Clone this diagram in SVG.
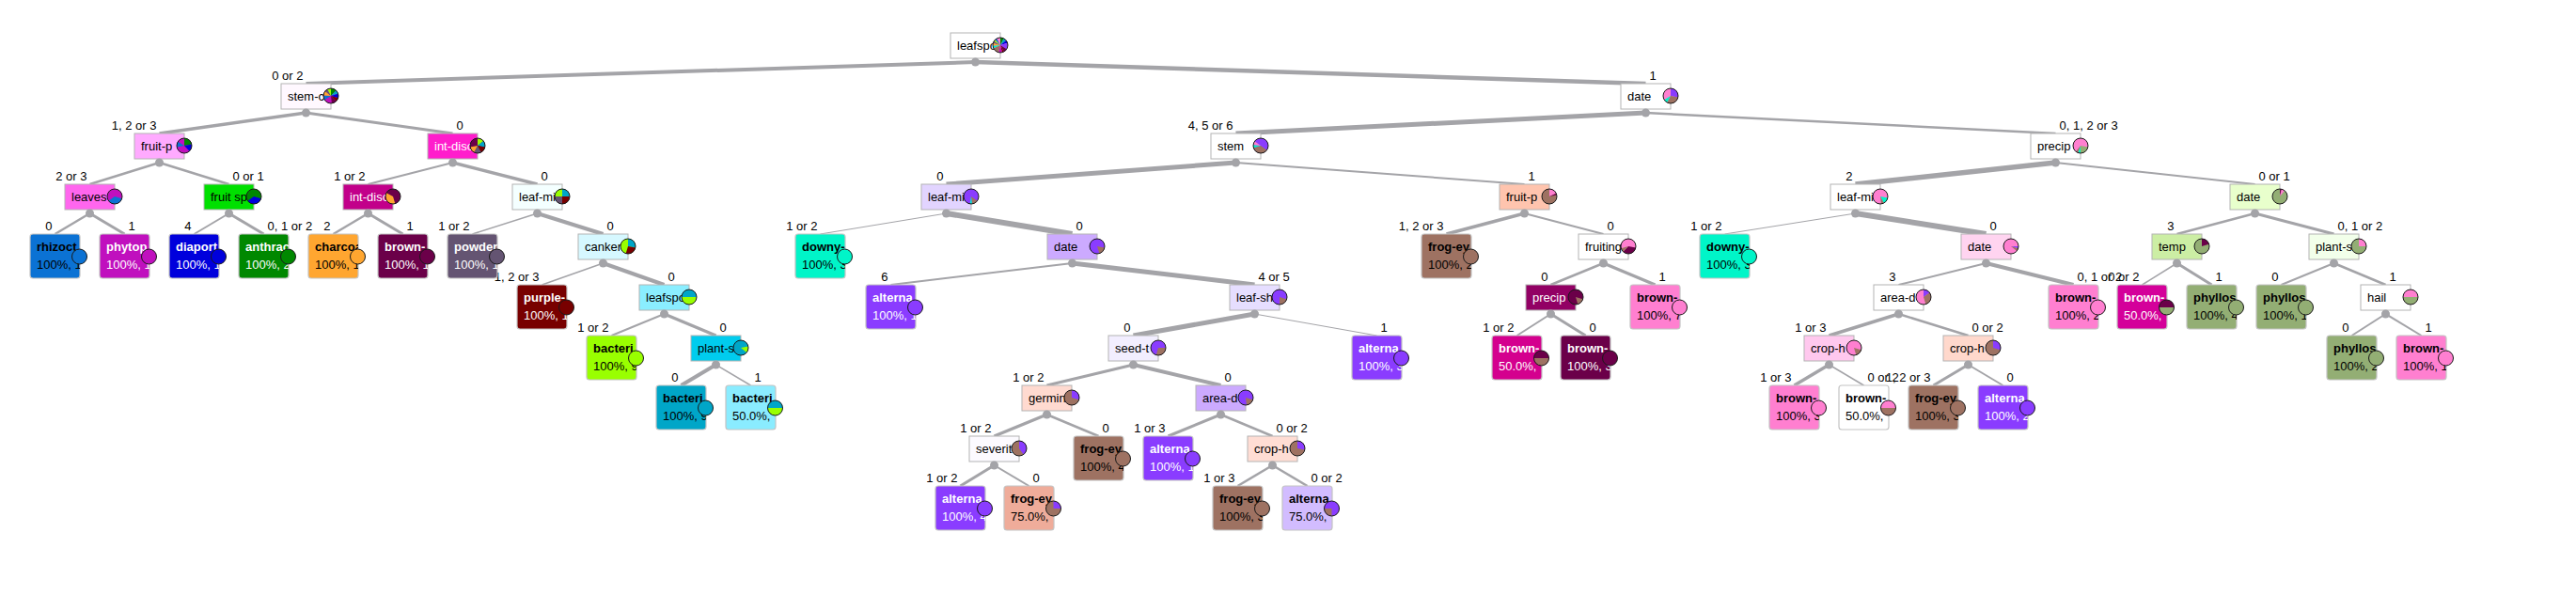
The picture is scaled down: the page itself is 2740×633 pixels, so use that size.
<svg xmlns="http://www.w3.org/2000/svg" width="2740" height="633" viewBox="0 0 2740 633">
<style>
text{font-family:"Liberation Sans",Arial,sans-serif;font-size:13px;fill:#000}
.nm{font-weight:bold}
.w text,text.w{fill:#fff}
.e path{fill:none;stroke:#a4a4a8;stroke-linecap:butt}
.ib{stroke:#b4b4b4;stroke-width:1}
.lf{stroke:#c4c4c4;stroke-width:1.2}
.dt{fill:#a4a4a8}
.s{fill:none;stroke-width:8}
.o{fill:none;stroke:#1a1a1a;stroke-width:1}
.pc{stroke:#1a1a1a;stroke-width:1}
.fP{fill:#ff7fd0}.sP{stroke:#ff7fd0}
.fA{fill:#8a3cff}.sA{stroke:#8a3cff}
.fF{fill:#9e7262}.sF{stroke:#9e7262}
.fD{fill:#00f5c8}.sD{stroke:#00f5c8}
.fO{fill:#93ae74}.sO{stroke:#93ae74}
.fM{fill:#6b0049}.sM{stroke:#6b0049}
.fH{fill:#c010be}.sH{stroke:#c010be}
.fR{fill:#0b72d4}.sR{stroke:#0b72d4}
.fB{fill:#0000dc}.sB{stroke:#0000dc}
.fG{fill:#008800}.sG{stroke:#008800}
.fC{fill:#ffa630}.sC{stroke:#ffa630}
.fW{fill:#645472}.sW{stroke:#645472}
.fS{fill:#780000}.sS{stroke:#780000}
.fL{fill:#99ff00}.sL{stroke:#99ff00}
.fT{fill:#00a6c8}.sT{stroke:#00a6c8}
</style>
<rect width="2740" height="633" fill="#fff"/>
<g id="connectors" class="e">
<path d="M1037.5 66L325.5 89" stroke-width="4"/>
<path d="M1037.5 66L1750.5 89" stroke-width="4.5"/>
<path d="M325.5 120L169.5 142" stroke-width="3.5"/>
<path d="M325.5 120L481.5 142" stroke-width="3"/>
<path d="M169.5 173L95.5 196" stroke-width="2.5"/>
<path d="M169.5 173L243.5 196" stroke-width="2.5"/>
<path d="M95.5 227L58.5 249" stroke-width="2.5"/>
<path d="M95.5 227L132.5 249" stroke-width="3"/>
<path d="M243.5 227L206.5 249" stroke-width="2"/>
<path d="M243.5 227L280.5 249" stroke-width="3"/>
<path d="M481.5 173L391.5 196" stroke-width="2"/>
<path d="M481.5 173L571.5 196" stroke-width="3.5"/>
<path d="M391.5 227L354.5 249" stroke-width="2.5"/>
<path d="M391.5 227L428.5 249" stroke-width="3"/>
<path d="M571.5 227L502.5 249" stroke-width="1.5"/>
<path d="M571.5 227L641.5 249" stroke-width="4"/>
<path d="M641.5 280L576.5 303" stroke-width="1.5"/>
<path d="M641.5 280L706.5 303" stroke-width="4"/>
<path d="M706.5 334L650.5 357" stroke-width="2"/>
<path d="M706.5 334L761.5 357" stroke-width="3.5"/>
<path d="M761.5 388L724.5 410" stroke-width="4"/>
<path d="M761.5 388L798.5 410" stroke-width="1.5"/>
<path d="M1750.5 120L1314.5 142" stroke-width="5"/>
<path d="M1750.5 120L2186.5 142" stroke-width="2.5"/>
<path d="M1314.5 173L1006.5 196" stroke-width="5"/>
<path d="M1314.5 173L1621.5 196" stroke-width="2"/>
<path d="M1006.5 227L872.5 249" stroke-width="1"/>
<path d="M1006.5 227L1140.5 249" stroke-width="6"/>
<path d="M1140.5 280L947.5 303" stroke-width="2"/>
<path d="M1140.5 280L1334.5 303" stroke-width="5"/>
<path d="M1334.5 334L1205.5 357" stroke-width="5"/>
<path d="M1334.5 334L1464.5 357" stroke-width="1"/>
<path d="M1205.5 388L1113.5 410" stroke-width="3"/>
<path d="M1205.5 388L1298.5 410" stroke-width="4"/>
<path d="M1113.5 441L1057.5 464" stroke-width="3.5"/>
<path d="M1113.5 441L1168.5 464" stroke-width="2.5"/>
<path d="M1057.5 495L1021.5 517" stroke-width="3"/>
<path d="M1057.5 495L1094.5 517" stroke-width="2"/>
<path d="M1298.5 441L1242.5 464" stroke-width="3"/>
<path d="M1298.5 441L1353.5 464" stroke-width="2.5"/>
<path d="M1353.5 495L1316.5 517" stroke-width="2.5"/>
<path d="M1353.5 495L1390.5 517" stroke-width="2.5"/>
<path d="M1621.5 227L1538.5 249" stroke-width="3.5"/>
<path d="M1621.5 227L1705.5 249" stroke-width="2"/>
<path d="M1705.5 280L1649.5 303" stroke-width="2.5"/>
<path d="M1705.5 280L1760.5 303" stroke-width="3.5"/>
<path d="M1649.5 334L1613.5 357" stroke-width="2"/>
<path d="M1649.5 334L1686.5 357" stroke-width="3"/>
<path d="M2186.5 173L1973.5 196" stroke-width="5.5"/>
<path d="M2186.5 173L2398.5 196" stroke-width="2"/>
<path d="M1973.5 227L1834.5 249" stroke-width="1"/>
<path d="M1973.5 227L2112.5 249" stroke-width="6"/>
<path d="M2112.5 280L2019.5 303" stroke-width="2"/>
<path d="M2112.5 280L2205.5 303" stroke-width="4"/>
<path d="M2019.5 334L1945.5 357" stroke-width="3.5"/>
<path d="M2019.5 334L2093.5 357" stroke-width="2.5"/>
<path d="M1945.5 388L1908.5 410" stroke-width="3.5"/>
<path d="M1945.5 388L1982.5 410" stroke-width="1.5"/>
<path d="M2093.5 388L2056.5 410" stroke-width="3"/>
<path d="M2093.5 388L2130.5 410" stroke-width="2"/>
<path d="M2398.5 227L2315.5 249" stroke-width="2.5"/>
<path d="M2398.5 227L2482.5 249" stroke-width="3"/>
<path d="M2315.5 280L2278.5 303" stroke-width="1.5"/>
<path d="M2315.5 280L2352.5 303" stroke-width="3"/>
<path d="M2482.5 280L2426.5 303" stroke-width="2"/>
<path d="M2482.5 280L2537.5 303" stroke-width="2.5"/>
<path d="M2537.5 334L2501.5 357" stroke-width="2"/>
<path d="M2537.5 334L2575.5 357" stroke-width="2"/>
<g id="edge-labels">
<text x="322.5" y="85" text-anchor="end">0 or 2</text>
<text x="1754.5" y="85">1</text>
<text x="166.5" y="138" text-anchor="end">1, 2 or 3</text>
<text x="485.5" y="138">0</text>
<text x="92.5" y="192" text-anchor="end">2 or 3</text>
<text x="247.5" y="192">0 or 1</text>
<text x="55.5" y="245" text-anchor="end">0</text>
<text x="136.5" y="245">1</text>
<text x="203.5" y="245" text-anchor="end">4</text>
<text x="284.5" y="245">0, 1 or 2</text>
<text x="388.5" y="192" text-anchor="end">1 or 2</text>
<text x="575.5" y="192">0</text>
<text x="351.5" y="245" text-anchor="end">2</text>
<text x="432.5" y="245">1</text>
<text x="499.5" y="245" text-anchor="end">1 or 2</text>
<text x="645.5" y="245">0</text>
<text x="573.5" y="299" text-anchor="end">1, 2 or 3</text>
<text x="710.5" y="299">0</text>
<text x="647.5" y="353" text-anchor="end">1 or 2</text>
<text x="765.5" y="353">0</text>
<text x="721.5" y="406" text-anchor="end">0</text>
<text x="802.5" y="406">1</text>
<text x="1311.5" y="138" text-anchor="end">4, 5 or 6</text>
<text x="2190.5" y="138">0, 1, 2 or 3</text>
<text x="1003.5" y="192" text-anchor="end">0</text>
<text x="1625.5" y="192">1</text>
<text x="869.5" y="245" text-anchor="end">1 or 2</text>
<text x="1144.5" y="245">0</text>
<text x="944.5" y="299" text-anchor="end">6</text>
<text x="1338.5" y="299">4 or 5</text>
<text x="1202.5" y="353" text-anchor="end">0</text>
<text x="1468.5" y="353">1</text>
<text x="1110.5" y="406" text-anchor="end">1 or 2</text>
<text x="1302.5" y="406">0</text>
<text x="1054.5" y="460" text-anchor="end">1 or 2</text>
<text x="1172.5" y="460">0</text>
<text x="1018.5" y="513" text-anchor="end">1 or 2</text>
<text x="1098.5" y="513">0</text>
<text x="1239.5" y="460" text-anchor="end">1 or 3</text>
<text x="1357.5" y="460">0 or 2</text>
<text x="1313.5" y="513" text-anchor="end">1 or 3</text>
<text x="1394.5" y="513">0 or 2</text>
<text x="1535.5" y="245" text-anchor="end">1, 2 or 3</text>
<text x="1709.5" y="245">0</text>
<text x="1646.5" y="299" text-anchor="end">0</text>
<text x="1764.5" y="299">1</text>
<text x="1610.5" y="353" text-anchor="end">1 or 2</text>
<text x="1690.5" y="353">0</text>
<text x="1970.5" y="192" text-anchor="end">2</text>
<text x="2402.5" y="192">0 or 1</text>
<text x="1831.5" y="245" text-anchor="end">1 or 2</text>
<text x="2116.5" y="245">0</text>
<text x="2016.5" y="299" text-anchor="end">3</text>
<text x="2209.5" y="299">0, 1 or 2</text>
<text x="1942.5" y="353" text-anchor="end">1 or 3</text>
<text x="2097.5" y="353">0 or 2</text>
<text x="1905.5" y="406" text-anchor="end">1 or 3</text>
<text x="1986.5" y="406">0 or 2</text>
<text x="2053.5" y="406" text-anchor="end">1, 2 or 3</text>
<text x="2134.5" y="406">0</text>
<text x="2312.5" y="245" text-anchor="end">3</text>
<text x="2486.5" y="245">0, 1 or 2</text>
<text x="2275.5" y="299" text-anchor="end">0 or 2</text>
<text x="2356.5" y="299">1</text>
<text x="2423.5" y="299" text-anchor="end">0</text>
<text x="2541.5" y="299">1</text>
<text x="2498.5" y="353" text-anchor="end">0</text>
<text x="2579.5" y="353">1</text>
</g>
</g>
<g id="nodes">
<g id="n0"><rect class="ib" x="1011" y="35" width="53" height="27" fill="#fff"/><svg x="1011" y="35" width="53" height="27"><text x="7" y="18">leafspo</text></svg><circle class="dt" cx="1037.5" cy="66" r="4.5"/><g transform="translate(1064,48) rotate(-90)"><circle class="fP" r="8"/><circle class="s sG" r="4" pathLength="100" stroke-dasharray="8 100" stroke-dashoffset="0"/><circle class="s sT" r="4" pathLength="100" stroke-dasharray="6 100" stroke-dashoffset="-8"/><circle class="s sB" r="4" pathLength="100" stroke-dasharray="6 100" stroke-dashoffset="-14"/><circle class="s sA" r="4" pathLength="100" stroke-dasharray="14 100" stroke-dashoffset="-20"/><circle class="s sM" r="4" pathLength="100" stroke-dasharray="8 100" stroke-dashoffset="-34"/><circle class="s sS" r="4" pathLength="100" stroke-dasharray="4 100" stroke-dashoffset="-42"/><circle class="s sH" r="4" pathLength="100" stroke-dasharray="8 100" stroke-dashoffset="-46"/><circle class="s sF" r="4" pathLength="100" stroke-dasharray="14 100" stroke-dashoffset="-54"/><circle class="s sD" r="4" pathLength="100" stroke-dasharray="6 100" stroke-dashoffset="-68"/><circle class="s sC" r="4" pathLength="100" stroke-dasharray="6 100" stroke-dashoffset="-74"/><circle class="s sW" r="4" pathLength="100" stroke-dasharray="4 100" stroke-dashoffset="-80"/><circle class="s sL" r="4" pathLength="100" stroke-dasharray="4 100" stroke-dashoffset="-84"/><circle class="s sR" r="4" pathLength="100" stroke-dasharray="4 100" stroke-dashoffset="-88"/><circle class="o" r="8"/></g></g>
<g id="n1"><rect class="ib" x="299" y="89" width="53" height="27" fill="#fff8ff"/><svg x="299" y="89" width="53" height="27"><text x="7" y="18">stem-c</text></svg><circle class="dt" cx="325.5" cy="120" r="4.5"/><g transform="translate(352,102) rotate(-90)"><circle class="fH" r="8"/><circle class="s sG" r="4" pathLength="100" stroke-dasharray="12 100" stroke-dashoffset="0"/><circle class="s sT" r="4" pathLength="100" stroke-dasharray="8 100" stroke-dashoffset="-12"/><circle class="s sB" r="4" pathLength="100" stroke-dasharray="10 100" stroke-dashoffset="-20"/><circle class="s sS" r="4" pathLength="100" stroke-dasharray="8 100" stroke-dashoffset="-30"/><circle class="s sM" r="4" pathLength="100" stroke-dasharray="10 100" stroke-dashoffset="-38"/><circle class="s sR" r="4" pathLength="100" stroke-dasharray="10 100" stroke-dashoffset="-66"/><circle class="s sC" r="4" pathLength="100" stroke-dasharray="10 100" stroke-dashoffset="-76"/><circle class="s sW" r="4" pathLength="100" stroke-dasharray="6 100" stroke-dashoffset="-86"/><circle class="s sL" r="4" pathLength="100" stroke-dasharray="8 100" stroke-dashoffset="-92"/><circle class="o" r="8"/></g></g>
<g id="n2"><rect class="ib" x="1724" y="89" width="53" height="27" fill="#fff"/><svg x="1724" y="89" width="53" height="27"><text x="7" y="18">date</text></svg><circle class="dt" cx="1750.5" cy="120" r="4.5"/><g transform="translate(1777,102) rotate(-90)"><circle class="fP" r="8"/><circle class="s sA" r="4" pathLength="100" stroke-dasharray="28 100" stroke-dashoffset="0"/><circle class="s sF" r="4" pathLength="100" stroke-dasharray="30 100" stroke-dashoffset="-28"/><circle class="s sD" r="4" pathLength="100" stroke-dasharray="8 100" stroke-dashoffset="-58"/><circle class="o" r="8"/></g></g>
<g id="n3"><rect class="ib" x="143" y="142" width="53" height="27" fill="#ffaaff"/><svg x="143" y="142" width="53" height="27"><text x="7" y="18">fruit-p</text></svg><circle class="dt" cx="169.5" cy="173" r="4.5"/><g transform="translate(196,155) rotate(-90)"><circle class="fH" r="8"/><circle class="s sG" r="4" pathLength="100" stroke-dasharray="22 100" stroke-dashoffset="0"/><circle class="s sB" r="4" pathLength="100" stroke-dasharray="16 100" stroke-dashoffset="-22"/><circle class="s sR" r="4" pathLength="100" stroke-dasharray="12 100" stroke-dashoffset="-72"/><circle class="o" r="8"/></g></g>
<g id="n4" class="w"><rect class="ib" x="455" y="142" width="53" height="27" fill="#ff1dcc"/><svg x="455" y="142" width="53" height="27"><text x="7" y="18">int-disc</text></svg><circle class="dt" cx="481.5" cy="173" r="4.5"/><g transform="translate(508,155) rotate(-90)"><circle class="fM" r="8"/><circle class="s sL" r="4" pathLength="100" stroke-dasharray="14 100" stroke-dashoffset="0"/><circle class="s sT" r="4" pathLength="100" stroke-dasharray="14 100" stroke-dashoffset="-14"/><circle class="s sS" r="4" pathLength="100" stroke-dasharray="14 100" stroke-dashoffset="-28"/><circle class="s sW" r="4" pathLength="100" stroke-dasharray="16 100" stroke-dashoffset="-42"/><circle class="s sC" r="4" pathLength="100" stroke-dasharray="14 100" stroke-dashoffset="-58"/><circle class="o" r="8"/></g></g>
<g id="n5"><rect class="ib" x="69" y="196" width="53" height="27" fill="#ff66ee"/><svg x="69" y="196" width="53" height="27"><text x="7" y="18">leaves</text></svg><circle class="dt" cx="95.5" cy="227" r="4.5"/><g transform="translate(122,209) rotate(-90)"><circle class="fH" r="8"/><circle class="s sR" r="4" pathLength="100" stroke-dasharray="35 100" stroke-dashoffset="-30"/><circle class="o" r="8"/></g></g>
<g id="n6"><rect class="ib" x="217" y="196" width="53" height="27" fill="#00e000"/><svg x="217" y="196" width="53" height="27"><text x="7" y="18">fruit sp</text></svg><circle class="dt" cx="243.5" cy="227" r="4.5"/><g transform="translate(270,209) rotate(-90)"><circle class="fG" r="8"/><circle class="s sB" r="4" pathLength="100" stroke-dasharray="35 100" stroke-dashoffset="-30"/><circle class="o" r="8"/></g></g>
<g id="n7"><rect class="lf" x="32" y="249" width="53" height="47" rx="3" fill="#0b72d4"/><svg x="32" y="249" width="53" height="47"><text class="nm" x="7" y="18">rhizoct</text><text x="7" y="37">100%, 1</text></svg><circle class="fR pc" cx="84.5" cy="273" r="8"/></g>
<g id="n8" class="w"><rect class="lf" x="106" y="249" width="53" height="47" rx="3" fill="#c010be"/><svg x="106" y="249" width="53" height="47"><text class="nm" x="7" y="18">phytop</text><text x="7" y="37">100%, 1</text></svg><circle class="fH pc" cx="158.5" cy="273" r="8"/></g>
<g id="n9" class="w"><rect class="lf" x="180" y="249" width="53" height="47" rx="3" fill="#0000dc"/><svg x="180" y="249" width="53" height="47"><text class="nm" x="7" y="18">diaport</text><text x="7" y="37">100%, 1</text></svg><circle class="fB pc" cx="232.5" cy="273" r="8"/></g>
<g id="n10" class="w"><rect class="lf" x="254" y="249" width="53" height="47" rx="3" fill="#008800"/><svg x="254" y="249" width="53" height="47"><text class="nm" x="7" y="18">anthrac</text><text x="7" y="37">100%, 2</text></svg><circle class="fG pc" cx="306.5" cy="273" r="8"/></g>
<g id="n11" class="w"><rect class="ib" x="365" y="196" width="53" height="27" fill="#c2008a"/><svg x="365" y="196" width="53" height="27"><text x="7" y="18">int-disc</text></svg><circle class="dt" cx="391.5" cy="227" r="4.5"/><g transform="translate(418,209) rotate(-90)"><circle class="fM" r="8"/><circle class="s sC" r="4" pathLength="100" stroke-dasharray="38 100" stroke-dashoffset="-45"/><circle class="o" r="8"/></g></g>
<g id="n12"><rect class="ib" x="545" y="196" width="53" height="27" fill="#f4ffff"/><svg x="545" y="196" width="53" height="27"><text x="7" y="18">leaf-mi</text></svg><circle class="dt" cx="571.5" cy="227" r="4.5"/><g transform="translate(598,209) rotate(-90)"><circle class="fW" r="8"/><circle class="s sT" r="4" pathLength="100" stroke-dasharray="25 100" stroke-dashoffset="0"/><circle class="s sS" r="4" pathLength="100" stroke-dasharray="25 100" stroke-dashoffset="-25"/><circle class="s sL" r="4" pathLength="100" stroke-dasharray="25 100" stroke-dashoffset="-75"/><circle class="o" r="8"/></g></g>
<g id="n13"><rect class="lf" x="328" y="249" width="53" height="47" rx="3" fill="#ffa630"/><svg x="328" y="249" width="53" height="47"><text class="nm" x="7" y="18">charcoa</text><text x="7" y="37">100%, 1</text></svg><circle class="fC pc" cx="380.5" cy="273" r="8"/></g>
<g id="n14" class="w"><rect class="lf" x="402" y="249" width="53" height="47" rx="3" fill="#6b0049"/><svg x="402" y="249" width="53" height="47"><text class="nm" x="7" y="18">brown-</text><text x="7" y="37">100%, 1</text></svg><circle class="fM pc" cx="454.5" cy="273" r="8"/></g>
<g id="n15" class="w"><rect class="lf" x="476" y="249" width="53" height="47" rx="3" fill="#645472"/><svg x="476" y="249" width="53" height="47"><text class="nm" x="7" y="18">powder</text><text x="7" y="37">100%, 1</text></svg><circle class="fW pc" cx="528.5" cy="273" r="8"/></g>
<g id="n16"><rect class="ib" x="615" y="249" width="53" height="27" fill="#d6f8ff"/><svg x="615" y="249" width="53" height="27"><text x="7" y="18">canker</text></svg><circle class="dt" cx="641.5" cy="280" r="4.5"/><g transform="translate(668,262) rotate(-90)"><circle class="fL" r="8"/><circle class="s sT" r="4" pathLength="100" stroke-dasharray="28 100" stroke-dashoffset="0"/><circle class="s sS" r="4" pathLength="100" stroke-dasharray="27 100" stroke-dashoffset="-28"/><circle class="o" r="8"/></g></g>
<g id="n17" class="w"><rect class="lf" x="550" y="303" width="53" height="47" rx="3" fill="#780000"/><svg x="550" y="303" width="53" height="47"><text class="nm" x="7" y="18">purple-</text><text x="7" y="37">100%, 1</text></svg><circle class="fS pc" cx="602.5" cy="327" r="8"/></g>
<g id="n18"><rect class="ib" x="680" y="303" width="53" height="27" fill="#8aeeff"/><svg x="680" y="303" width="53" height="27"><text x="7" y="18">leafspo</text></svg><circle class="dt" cx="706.5" cy="334" r="4.5"/><g transform="translate(733,316) rotate(-90)"><circle class="fT" r="8"/><circle class="s sL" r="4" pathLength="100" stroke-dasharray="50 100" stroke-dashoffset="-25"/><circle class="o" r="8"/></g></g>
<g id="n19"><rect class="lf" x="624" y="357" width="53" height="47" rx="3" fill="#99ff00"/><svg x="624" y="357" width="53" height="47"><text class="nm" x="7" y="18">bacteri</text><text x="7" y="37">100%, 9</text></svg><circle class="fL pc" cx="676.5" cy="381" r="8"/></g>
<g id="n20"><rect class="ib" x="735" y="357" width="53" height="27" fill="#00ccee"/><svg x="735" y="357" width="53" height="27"><text x="7" y="18">plant-s</text></svg><circle class="dt" cx="761.5" cy="388" r="4.5"/><g transform="translate(788,370) rotate(-90)"><circle class="fT" r="8"/><circle class="s sL" r="4" pathLength="100" stroke-dasharray="14 100" stroke-dashoffset="-22"/><circle class="o" r="8"/></g></g>
<g id="n21"><rect class="lf" x="698" y="410" width="53" height="47" rx="3" fill="#00a6c8"/><svg x="698" y="410" width="53" height="47"><text class="nm" x="7" y="18">bacteri</text><text x="7" y="37">100%, 9</text></svg><circle class="fT pc" cx="750.5" cy="434" r="8"/></g>
<g id="n22"><rect class="lf" x="772" y="410" width="53" height="47" rx="3" fill="#8aecff"/><svg x="772" y="410" width="53" height="47"><text class="nm" x="7" y="18">bacteri</text><text x="7" y="37">50.0%, </text></svg><g transform="translate(824.5,434) rotate(-90)"><circle class="fT" r="8"/><circle class="s sL" r="4" pathLength="100" stroke-dasharray="50 100" stroke-dashoffset="-25"/><circle class="o" r="8"/></g></g>
<g id="n23"><rect class="ib" x="1288" y="142" width="53" height="27" fill="#fff"/><svg x="1288" y="142" width="53" height="27"><text x="7" y="18">stem</text></svg><circle class="dt" cx="1314.5" cy="173" r="4.5"/><g transform="translate(1341,155) rotate(-90)"><circle class="fA" r="8"/><circle class="s sF" r="4" pathLength="100" stroke-dasharray="35 100" stroke-dashoffset="-35"/><circle class="s sD" r="4" pathLength="100" stroke-dasharray="7 100" stroke-dashoffset="-70"/><circle class="s sP" r="4" pathLength="100" stroke-dasharray="8 100" stroke-dashoffset="-77"/><circle class="o" r="8"/></g></g>
<g id="n24"><rect class="ib" x="2160" y="142" width="53" height="27" fill="#fff"/><svg x="2160" y="142" width="53" height="27"><text x="7" y="18">precip</text></svg><circle class="dt" cx="2186.5" cy="173" r="4.5"/><g transform="translate(2213,155) rotate(-90)"><circle class="fP" r="8"/><circle class="s sO" r="4" pathLength="100" stroke-dasharray="22 100" stroke-dashoffset="-28"/><circle class="s sD" r="4" pathLength="100" stroke-dasharray="6 100" stroke-dashoffset="-50"/><circle class="s sF" r="4" pathLength="100" stroke-dasharray="5 100" stroke-dashoffset="-56"/><circle class="o" r="8"/></g></g>
<g id="n25"><rect class="ib" x="980" y="196" width="53" height="27" fill="#e2d4ff"/><svg x="980" y="196" width="53" height="27"><text x="7" y="18">leaf-mi</text></svg><circle class="dt" cx="1006.5" cy="227" r="4.5"/><g transform="translate(1033,209) rotate(-90)"><circle class="fA" r="8"/><circle class="s sF" r="4" pathLength="100" stroke-dasharray="13 100" stroke-dashoffset="-35"/><circle class="s sD" r="4" pathLength="100" stroke-dasharray="5 100" stroke-dashoffset="-48"/><circle class="o" r="8"/></g></g>
<g id="n26"><rect class="ib" x="1595" y="196" width="53" height="27" fill="#ffc4ae"/><svg x="1595" y="196" width="53" height="27"><text x="7" y="18">fruit-p</text></svg><circle class="dt" cx="1621.5" cy="227" r="4.5"/><g transform="translate(1648,209) rotate(-90)"><circle class="fF" r="8"/><circle class="s sP" r="4" pathLength="100" stroke-dasharray="18 100" stroke-dashoffset="0"/><circle class="s sM" r="4" pathLength="100" stroke-dasharray="4 100" stroke-dashoffset="-18"/><circle class="o" r="8"/></g></g>
<g id="n27"><rect class="lf" x="846" y="249" width="53" height="47" rx="3" fill="#00f5c8"/><svg x="846" y="249" width="53" height="47"><text class="nm" x="7" y="18">downy-</text><text x="7" y="37">100%, 3</text></svg><circle class="fD pc" cx="898.5" cy="273" r="8"/></g>
<g id="n28"><rect class="ib" x="1114" y="249" width="53" height="27" fill="#ccaaff"/><svg x="1114" y="249" width="53" height="27"><text x="7" y="18">date</text></svg><circle class="dt" cx="1140.5" cy="280" r="4.5"/><g transform="translate(1167,262) rotate(-90)"><circle class="fA" r="8"/><circle class="s sF" r="4" pathLength="100" stroke-dasharray="17 100" stroke-dashoffset="-28"/><circle class="o" r="8"/></g></g>
<g id="n29" class="w"><rect class="lf" x="921" y="303" width="53" height="47" rx="3" fill="#8a3cff"/><svg x="921" y="303" width="53" height="47"><text class="nm" x="7" y="18">alterna</text><text x="7" y="37">100%, 1</text></svg><circle class="fA pc" cx="973.5" cy="327" r="8"/></g>
<g id="n30"><rect class="ib" x="1308" y="303" width="53" height="27" fill="#e6deff"/><svg x="1308" y="303" width="53" height="27"><text x="7" y="18">leaf-sh</text></svg><circle class="dt" cx="1334.5" cy="334" r="4.5"/><g transform="translate(1361,316) rotate(-90)"><circle class="fA" r="8"/><circle class="s sF" r="4" pathLength="100" stroke-dasharray="20 100" stroke-dashoffset="-30"/><circle class="o" r="8"/></g></g>
<g id="n31"><rect class="ib" x="1179" y="357" width="53" height="27" fill="#f2eeff"/><svg x="1179" y="357" width="53" height="27"><text x="7" y="18">seed-t</text></svg><circle class="dt" cx="1205.5" cy="388" r="4.5"/><g transform="translate(1232,370) rotate(-90)"><circle class="fA" r="8"/><circle class="s sF" r="4" pathLength="100" stroke-dasharray="30 100" stroke-dashoffset="-25"/><circle class="o" r="8"/></g></g>
<g id="n32" class="w"><rect class="lf" x="1438" y="357" width="53" height="47" rx="3" fill="#8a3cff"/><svg x="1438" y="357" width="53" height="47"><text class="nm" x="7" y="18">alterna</text><text x="7" y="37">100%, 3</text></svg><circle class="fA pc" cx="1490.5" cy="381" r="8"/></g>
<g id="n33"><rect class="ib" x="1087" y="410" width="53" height="27" fill="#ffdad0"/><svg x="1087" y="410" width="53" height="27"><text x="7" y="18">germin</text></svg><circle class="dt" cx="1113.5" cy="441" r="4.5"/><g transform="translate(1140,423) rotate(-90)"><circle class="fF" r="8"/><circle class="s sA" r="4" pathLength="100" stroke-dasharray="30 100" stroke-dashoffset="0"/><circle class="o" r="8"/></g></g>
<g id="n34"><rect class="ib" x="1272" y="410" width="53" height="27" fill="#ccaaff"/><svg x="1272" y="410" width="53" height="27"><text x="7" y="18">area-d</text></svg><circle class="dt" cx="1298.5" cy="441" r="4.5"/><g transform="translate(1325,423) rotate(-90)"><circle class="fA" r="8"/><circle class="s sF" r="4" pathLength="100" stroke-dasharray="18 100" stroke-dashoffset="-30"/><circle class="o" r="8"/></g></g>
<g id="n35"><rect class="ib" x="1031" y="464" width="53" height="27" fill="#fcfaff"/><svg x="1031" y="464" width="53" height="27"><text x="7" y="18">severit</text></svg><circle class="dt" cx="1057.5" cy="495" r="4.5"/><g transform="translate(1084,477) rotate(-90)"><circle class="fF" r="8"/><circle class="s sA" r="4" pathLength="100" stroke-dasharray="40 100" stroke-dashoffset="0"/><circle class="o" r="8"/></g></g>
<g id="n36"><rect class="lf" x="1142" y="464" width="53" height="47" rx="3" fill="#9e7262"/><svg x="1142" y="464" width="53" height="47"><text class="nm" x="7" y="18">frog-ey</text><text x="7" y="37">100%, 4</text></svg><circle class="fF pc" cx="1194.5" cy="488" r="8"/></g>
<g id="n37" class="w"><rect class="lf" x="995" y="517" width="53" height="47" rx="3" fill="#8a3cff"/><svg x="995" y="517" width="53" height="47"><text class="nm" x="7" y="18">alterna</text><text x="7" y="37">100%, 4</text></svg><circle class="fA pc" cx="1047.5" cy="541" r="8"/></g>
<g id="n38"><rect class="lf" x="1068" y="517" width="53" height="47" rx="3" fill="#efac9a"/><svg x="1068" y="517" width="53" height="47"><text class="nm" x="7" y="18">frog-ey</text><text x="7" y="37">75.0%, </text></svg><g transform="translate(1120.5,541) rotate(-90)"><circle class="fF" r="8"/><circle class="s sA" r="4" pathLength="100" stroke-dasharray="25 100" stroke-dashoffset="0"/><circle class="o" r="8"/></g></g>
<g id="n39" class="w"><rect class="lf" x="1216" y="464" width="53" height="47" rx="3" fill="#8a3cff"/><svg x="1216" y="464" width="53" height="47"><text class="nm" x="7" y="18">alterna</text><text x="7" y="37">100%, 1</text></svg><circle class="fA pc" cx="1268.5" cy="488" r="8"/></g>
<g id="n40"><rect class="ib" x="1327" y="464" width="53" height="27" fill="#ffddd4"/><svg x="1327" y="464" width="53" height="27"><text x="7" y="18">crop-h</text></svg><circle class="dt" cx="1353.5" cy="495" r="4.5"/><g transform="translate(1380,477) rotate(-90)"><circle class="fF" r="8"/><circle class="s sA" r="4" pathLength="100" stroke-dasharray="28 100" stroke-dashoffset="0"/><circle class="o" r="8"/></g></g>
<g id="n41"><rect class="lf" x="1290" y="517" width="53" height="47" rx="3" fill="#9e7262"/><svg x="1290" y="517" width="53" height="47"><text class="nm" x="7" y="18">frog-ey</text><text x="7" y="37">100%, 3</text></svg><circle class="fF pc" cx="1342.5" cy="541" r="8"/></g>
<g id="n42"><rect class="lf" x="1364" y="517" width="53" height="47" rx="3" fill="#d2bcff"/><svg x="1364" y="517" width="53" height="47"><text class="nm" x="7" y="18">alterna</text><text x="7" y="37">75.0%, </text></svg><g transform="translate(1416.5,541) rotate(-90)"><circle class="fA" r="8"/><circle class="s sF" r="4" pathLength="100" stroke-dasharray="25 100" stroke-dashoffset="-50"/><circle class="o" r="8"/></g></g>
<g id="n43"><rect class="lf" x="1512" y="249" width="53" height="47" rx="3" fill="#9e7262"/><svg x="1512" y="249" width="53" height="47"><text class="nm" x="7" y="18">frog-ey</text><text x="7" y="37">100%, 2</text></svg><circle class="fF pc" cx="1564.5" cy="273" r="8"/></g>
<g id="n44"><rect class="ib" x="1679" y="249" width="53" height="27" fill="#fff"/><svg x="1679" y="249" width="53" height="27"><text x="7" y="18">fruiting</text></svg><circle class="dt" cx="1705.5" cy="280" r="4.5"/><g transform="translate(1732,262) rotate(-90)"><circle class="fP" r="8"/><circle class="s sM" r="4" pathLength="100" stroke-dasharray="34 100" stroke-dashoffset="-28"/><circle class="s sF" r="4" pathLength="100" stroke-dasharray="8 100" stroke-dashoffset="-62"/><circle class="o" r="8"/></g></g>
<g id="n45" class="w"><rect class="ib" x="1623" y="303" width="53" height="27" fill="#920064"/><svg x="1623" y="303" width="53" height="27"><text x="7" y="18">precip</text></svg><circle class="dt" cx="1649.5" cy="334" r="4.5"/><g transform="translate(1676,316) rotate(-90)"><circle class="fM" r="8"/><circle class="s sF" r="4" pathLength="100" stroke-dasharray="15 100" stroke-dashoffset="-30"/><circle class="o" r="8"/></g></g>
<g id="n46"><rect class="lf" x="1734" y="303" width="53" height="47" rx="3" fill="#ff7fd0"/><svg x="1734" y="303" width="53" height="47"><text class="nm" x="7" y="18">brown-</text><text x="7" y="37">100%, 7</text></svg><circle class="fP pc" cx="1786.5" cy="327" r="8"/></g>
<g id="n47" class="w"><rect class="lf" x="1587" y="357" width="53" height="47" rx="3" fill="#d4008e"/><svg x="1587" y="357" width="53" height="47"><text class="nm" x="7" y="18">brown-</text><text x="7" y="37">50.0%, </text></svg><g transform="translate(1639.5,381) rotate(-90)"><circle class="fM" r="8"/><circle class="s sF" r="4" pathLength="100" stroke-dasharray="50 100" stroke-dashoffset="-25"/><circle class="o" r="8"/></g></g>
<g id="n48" class="w"><rect class="lf" x="1660" y="357" width="53" height="47" rx="3" fill="#6b0049"/><svg x="1660" y="357" width="53" height="47"><text class="nm" x="7" y="18">brown-</text><text x="7" y="37">100%, 3</text></svg><circle class="fM pc" cx="1712.5" cy="381" r="8"/></g>
<g id="n49"><rect class="ib" x="1947" y="196" width="53" height="27" fill="#fff"/><svg x="1947" y="196" width="53" height="27"><text x="7" y="18">leaf-mi</text></svg><circle class="dt" cx="1973.5" cy="227" r="4.5"/><g transform="translate(2000,209) rotate(-90)"><circle class="fP" r="8"/><circle class="s sD" r="4" pathLength="100" stroke-dasharray="14 100" stroke-dashoffset="-28"/><circle class="s sF" r="4" pathLength="100" stroke-dasharray="6 100" stroke-dashoffset="-42"/><circle class="o" r="8"/></g></g>
<g id="n50"><rect class="ib" x="2372" y="196" width="53" height="27" fill="#e8ffcc"/><svg x="2372" y="196" width="53" height="27"><text x="7" y="18">date</text></svg><circle class="dt" cx="2398.5" cy="227" r="4.5"/><g transform="translate(2425,209) rotate(-90)"><circle class="fO" r="8"/><circle class="s sM" r="4" pathLength="100" stroke-dasharray="4 100" stroke-dashoffset="0"/><circle class="s sP" r="4" pathLength="100" stroke-dasharray="7 100" stroke-dashoffset="-4"/><circle class="o" r="8"/></g></g>
<g id="n51"><rect class="lf" x="1808" y="249" width="53" height="47" rx="3" fill="#00f5c8"/><svg x="1808" y="249" width="53" height="47"><text class="nm" x="7" y="18">downy-</text><text x="7" y="37">100%, 3</text></svg><circle class="fD pc" cx="1860.5" cy="273" r="8"/></g>
<g id="n52"><rect class="ib" x="2086" y="249" width="53" height="27" fill="#ffd4f0"/><svg x="2086" y="249" width="53" height="27"><text x="7" y="18">date</text></svg><circle class="dt" cx="2112.5" cy="280" r="4.5"/><g transform="translate(2139,262) rotate(-90)"><circle class="fP" r="8"/><circle class="s sA" r="4" pathLength="100" stroke-dasharray="5 100" stroke-dashoffset="-25"/><circle class="s sF" r="4" pathLength="100" stroke-dasharray="6 100" stroke-dashoffset="-30"/><circle class="o" r="8"/></g></g>
<g id="n53"><rect class="ib" x="1993" y="303" width="53" height="27" fill="#fff"/><svg x="1993" y="303" width="53" height="27"><text x="7" y="18">area-d</text></svg><circle class="dt" cx="2019.5" cy="334" r="4.5"/><g transform="translate(2046,316) rotate(-90)"><circle class="fP" r="8"/><circle class="s sA" r="4" pathLength="100" stroke-dasharray="15 100" stroke-dashoffset="0"/><circle class="s sF" r="4" pathLength="100" stroke-dasharray="30 100" stroke-dashoffset="-15"/><circle class="o" r="8"/></g></g>
<g id="n54"><rect class="lf" x="2179" y="303" width="53" height="47" rx="3" fill="#ff7fd0"/><svg x="2179" y="303" width="53" height="47"><text class="nm" x="7" y="18">brown-</text><text x="7" y="37">100%, 2</text></svg><circle class="fP pc" cx="2231.5" cy="327" r="8"/></g>
<g id="n55"><rect class="ib" x="1919" y="357" width="53" height="27" fill="#ffc8ee"/><svg x="1919" y="357" width="53" height="27"><text x="7" y="18">crop-h</text></svg><circle class="dt" cx="1945.5" cy="388" r="4.5"/><g transform="translate(1972,370) rotate(-90)"><circle class="fP" r="8"/><circle class="s sF" r="4" pathLength="100" stroke-dasharray="15 100" stroke-dashoffset="-30"/><circle class="o" r="8"/></g></g>
<g id="n56"><rect class="ib" x="2067" y="357" width="53" height="27" fill="#ffd8cc"/><svg x="2067" y="357" width="53" height="27"><text x="7" y="18">crop-h</text></svg><circle class="dt" cx="2093.5" cy="388" r="4.5"/><g transform="translate(2120,370) rotate(-90)"><circle class="fF" r="8"/><circle class="s sA" r="4" pathLength="100" stroke-dasharray="30 100" stroke-dashoffset="0"/><circle class="o" r="8"/></g></g>
<g id="n57"><rect class="lf" x="1882" y="410" width="53" height="47" rx="3" fill="#ff7fd0"/><svg x="1882" y="410" width="53" height="47"><text class="nm" x="7" y="18">brown-</text><text x="7" y="37">100%, 3</text></svg><circle class="fP pc" cx="1934.5" cy="434" r="8"/></g>
<g id="n58"><rect class="lf" x="1956" y="410" width="53" height="47" rx="3" fill="#fff"/><svg x="1956" y="410" width="53" height="47"><text class="nm" x="7" y="18">brown-</text><text x="7" y="37">50.0%, </text></svg><g transform="translate(2008.5,434) rotate(-90)"><circle class="fP" r="8"/><circle class="s sF" r="4" pathLength="100" stroke-dasharray="50 100" stroke-dashoffset="-25"/><circle class="o" r="8"/></g></g>
<g id="n59"><rect class="lf" x="2030" y="410" width="53" height="47" rx="3" fill="#9e7262"/><svg x="2030" y="410" width="53" height="47"><text class="nm" x="7" y="18">frog-ey</text><text x="7" y="37">100%, 3</text></svg><circle class="fF pc" cx="2082.5" cy="434" r="8"/></g>
<g id="n60" class="w"><rect class="lf" x="2104" y="410" width="53" height="47" rx="3" fill="#8a3cff"/><svg x="2104" y="410" width="53" height="47"><text class="nm" x="7" y="18">alterna</text><text x="7" y="37">100%, 2</text></svg><circle class="fA pc" cx="2156.5" cy="434" r="8"/></g>
<g id="n61"><rect class="ib" x="2289" y="249" width="53" height="27" fill="#cceea4"/><svg x="2289" y="249" width="53" height="27"><text x="7" y="18">temp</text></svg><circle class="dt" cx="2315.5" cy="280" r="4.5"/><g transform="translate(2342,262) rotate(-90)"><circle class="fO" r="8"/><circle class="s sM" r="4" pathLength="100" stroke-dasharray="20 100" stroke-dashoffset="0"/><circle class="o" r="8"/></g></g>
<g id="n62"><rect class="ib" x="2456" y="249" width="53" height="27" fill="#f2ffea"/><svg x="2456" y="249" width="53" height="27"><text x="7" y="18">plant-s</text></svg><circle class="dt" cx="2482.5" cy="280" r="4.5"/><g transform="translate(2509,262) rotate(-90)"><circle class="fO" r="8"/><circle class="s sP" r="4" pathLength="100" stroke-dasharray="25 100" stroke-dashoffset="0"/><circle class="o" r="8"/></g></g>
<g id="n63" class="w"><rect class="lf" x="2252" y="303" width="53" height="47" rx="3" fill="#d4009a"/><svg x="2252" y="303" width="53" height="47"><text class="nm" x="7" y="18">brown-</text><text x="7" y="37">50.0%, </text></svg><g transform="translate(2304.5,327) rotate(-90)"><circle class="fM" r="8"/><circle class="s sO" r="4" pathLength="100" stroke-dasharray="50 100" stroke-dashoffset="-25"/><circle class="o" r="8"/></g></g>
<g id="n64"><rect class="lf" x="2326" y="303" width="53" height="47" rx="3" fill="#93ae74"/><svg x="2326" y="303" width="53" height="47"><text class="nm" x="7" y="18">phyllos</text><text x="7" y="37">100%, 4</text></svg><circle class="fO pc" cx="2378.5" cy="327" r="8"/></g>
<g id="n65"><rect class="lf" x="2400" y="303" width="53" height="47" rx="3" fill="#93ae74"/><svg x="2400" y="303" width="53" height="47"><text class="nm" x="7" y="18">phyllos</text><text x="7" y="37">100%, 1</text></svg><circle class="fO pc" cx="2452.5" cy="327" r="8"/></g>
<g id="n66"><rect class="ib" x="2511" y="303" width="53" height="27" fill="#fff"/><svg x="2511" y="303" width="53" height="27"><text x="7" y="18">hail</text></svg><circle class="dt" cx="2537.5" cy="334" r="4.5"/><g transform="translate(2564,316) rotate(-90)"><circle class="fP" r="8"/><circle class="s sO" r="4" pathLength="100" stroke-dasharray="50 100" stroke-dashoffset="-25"/><circle class="o" r="8"/></g></g>
<g id="n67"><rect class="lf" x="2475" y="357" width="53" height="47" rx="3" fill="#93ae74"/><svg x="2475" y="357" width="53" height="47"><text class="nm" x="7" y="18">phyllos</text><text x="7" y="37">100%, 2</text></svg><circle class="fO pc" cx="2527.5" cy="381" r="8"/></g>
<g id="n68"><rect class="lf" x="2549" y="357" width="53" height="47" rx="3" fill="#ff7fd0"/><svg x="2549" y="357" width="53" height="47"><text class="nm" x="7" y="18">brown-</text><text x="7" y="37">100%, 1</text></svg><circle class="fP pc" cx="2601.5" cy="381" r="8"/></g>
</g>
</svg>
